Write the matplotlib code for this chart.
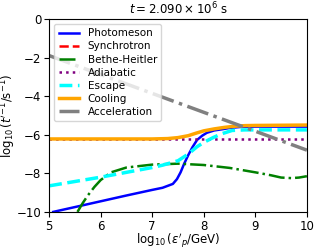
import numpy as np
import matplotlib
matplotlib.use('Agg')
import matplotlib.pyplot as plt

# log10 of proton energy (GeV) and rates
E_pm = [5.08, 5.5, 6.0, 6.5, 7.0, 7.2, 7.4, 7.48, 7.55, 7.62, 7.7, 7.78, 7.87, 7.97, 8.06, 8.2, 8.35, 8.5, 8.7, 9.0, 9.5, 10.0]
photomeson = [-10.0, -9.75, -9.45, -9.15, -8.86, -8.75, -8.55, -8.3, -7.95, -7.5, -7.05, -6.65, -6.27, -6.05, -5.9, -5.78, -5.72, -5.65, -5.6, -5.58, -5.58, -5.58]

E_sy = [5.0, 10.0]
synchrotron = [-16.0, -12.5]

E_bh = [5.55, 5.65, 5.75, 5.88, 6.0, 6.2, 6.5, 7.0, 7.5, 8.0, 8.5, 9.0, 9.3, 9.5, 9.7, 9.85, 10.0]
bethe_heitler = [-10.0, -9.55, -9.15, -8.7, -8.35, -7.95, -7.7, -7.55, -7.5, -7.57, -7.72, -7.95, -8.1, -8.22, -8.25, -8.22, -8.15]

E_ad = [5.0, 10.0]
adiabatic = [-6.22, -6.22]

E_esc = [5.0, 6.0, 7.0, 7.2, 7.5, 7.7, 7.87, 8.0, 8.18, 8.35, 8.55, 8.8, 9.0, 10.0]
escape = [-8.65, -8.2, -7.7, -7.58, -7.35, -7.0, -6.62, -6.4, -6.15, -5.95, -5.78, -5.75, -5.75, -5.75]

E_cool = [5.0, 7.0, 7.3, 7.5, 7.7, 7.85, 8.0, 8.2, 8.4, 8.6, 8.8, 9.0, 10.0]
cooling = [-6.22, -6.22, -6.2, -6.15, -6.05, -5.92, -5.8, -5.7, -5.62, -5.56, -5.53, -5.52, -5.5]

E_acc = [5.0, 10.0]
acceleration = [-1.9, -6.8]

fig = plt.figure(figsize=(3.19, 2.49), dpi=100)
ax = fig.add_axes([0.154, 0.149, 0.808, 0.775])

ax.plot(E_pm, photomeson, color='b', lw=1.8, label='Photomeson')
ax.plot(E_sy, synchrotron, color='r', ls='--', lw=1.8, label='Synchrotron')
ax.plot(E_bh, bethe_heitler, color='g', ls='-.', lw=1.8, label='Bethe-Heitler')
ax.plot(E_ad, adiabatic, color='purple', ls=':', lw=1.8, label='Adiabatic')
ax.plot(E_esc, escape, color='cyan', ls='--', lw=2.5, label='Escape')
ax.plot(E_cool, cooling, color='orange', lw=2.5, label='Cooling')
ax.plot(E_acc, acceleration, color='gray', ls='-.', lw=2.5, label='Acceleration')

ax.set_xlim(5, 10)
ax.set_ylim(-10, 0)
ax.set_xticks([5, 6, 7, 8, 9, 10])
ax.set_yticks([0, -2, -4, -6, -8, -10])
ax.tick_params(labelsize=8.5, pad=2)
ax.set_xlabel(r"$\log_{10}(\varepsilon'_p/\mathrm{GeV})$", fontsize=8.5)
ax.xaxis.set_label_coords(0.5, -0.1)
ax.set_ylabel(r"$\log_{10}(t'^{-1}/\mathrm{s}^{-1})$", fontsize=8.5)
ax.yaxis.set_label_coords(-0.12, 0.5)
ax.set_title(r"$t = 2.090 \times 10^{6}$ s", fontsize=8.5, pad=3)
ax.legend(loc='upper left', fontsize=7.5, labelspacing=0.3, handlelength=2.0)

plt.savefig('out.png', dpi=100)
